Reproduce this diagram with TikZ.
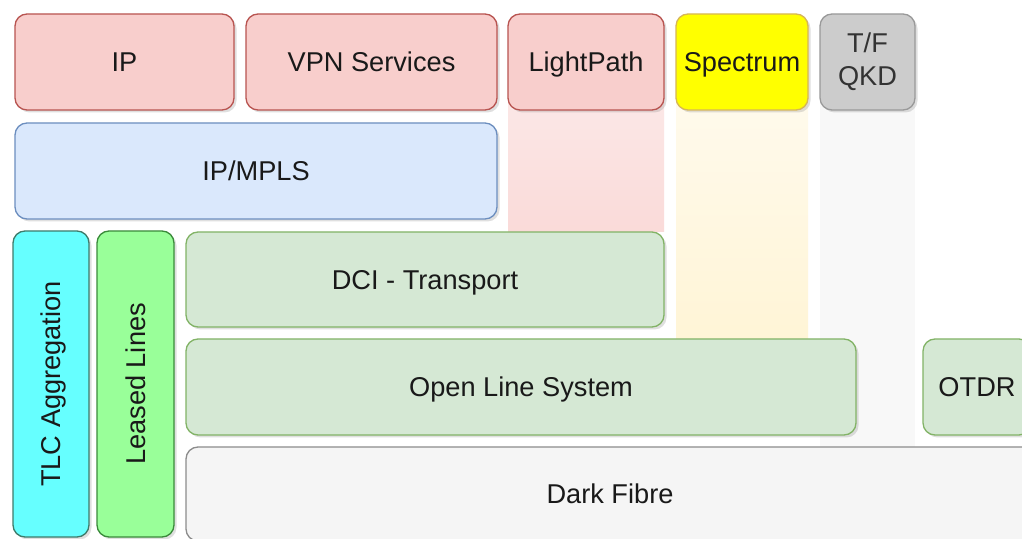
\documentclass[tikz,border=0pt]{standalone}
\usepackage{fontspec}
\setmainfont{Liberation Sans}
\usepackage{xcolor}
\usetikzlibrary{shadows}

\definecolor{redfill}{HTML}{F8CECC}
\definecolor{redline}{HTML}{B85450}
\definecolor{bluefill}{HTML}{DAE8FC}
\definecolor{blueline}{HTML}{6C8EBF}
\definecolor{greenfill}{HTML}{D5E8D4}
\definecolor{greenline}{HTML}{82B366}
\definecolor{yelfill}{HTML}{FFFF00}
\definecolor{yelline}{HTML}{D6B656}
\definecolor{creamfill}{HTML}{FFF2CC}
\definecolor{qkdfill}{HTML}{CCCCCC}
\definecolor{qkdline}{HTML}{999999}
\definecolor{cyanfill}{HTML}{66FFFF}
\definecolor{cyanline}{HTML}{3E7A6A}
\definecolor{limefill}{HTML}{99FF99}
\definecolor{limeline}{HTML}{3A8A3A}
\definecolor{fibrefill}{HTML}{F5F5F5}
\definecolor{fibreline}{HTML}{8C8C8C}

\begin{document}
\begin{tikzpicture}[x=1pt,y=1pt,
	layer/.style={rectangle, rounded corners=12pt, line width=1.3pt, inner sep=0pt, outer sep=0pt,
		font=\fontsize{27.2}{33}\selectfont, text=black!90, align=center,
		drop shadow={opacity=0.25, shadow xshift=2.5pt, shadow yshift=-2.5pt}},
	even/.style={layer, text height=19.5pt, text depth=0pt},
	service/.style={even, draw=redline, fill=redfill, minimum height=96pt},
	ctrl/.style={even, draw=blueline, fill=bluefill, minimum height=96pt},
	optical/.style={even, draw=greenline, fill=greenfill}]
	\clip (0,0) rectangle (1022,538);
	\fill[white] (0,0) rectangle (1022,538);
	% columns behind the top boxes
	\shade[top color=redfill!40, bottom color=redfill!75] (508,306) rectangle (664,478);
	\shade[top color=creamfill!30, bottom color=creamfill!80] (676,199) rectangle (808,478);
	\fill[fibrefill!70] (820,91) rectangle (915,478);
	% top row
	\node[service, minimum width=219pt] (ip) at (124.5,476) {IP};
	\node[service, minimum width=251pt] (vpn) at (371.5,476) {VPN Services};
	\node[service, minimum width=156pt] (lightpath) at (586,476) {LightPath};
	\node[even, draw=yelline, fill=yelfill, minimum width=132pt, minimum height=96pt] (spectrum) at (742,476) {Spectrum};
	\node[layer, draw=qkdline, fill=qkdfill, text=black!80, minimum width=95pt, minimum height=96pt] (qkd) at (867.5,476) {T/F\\QKD};
	% control layer
	\node[ctrl, minimum width=482pt] (mpls) at (256,367) {IP/MPLS};
	% vertical boxes
	\node[even, draw=cyanline, fill=cyanfill, rotate=90, minimum width=306pt, minimum height=76pt] (tlc) at (51,154) {TLC Aggregation};
	\node[even, draw=limeline, fill=limefill, rotate=90, minimum width=306pt, minimum height=77pt] (leased) at (135.5,154) {Leased Lines};
	% optical layers
	\node[optical, minimum width=478pt, minimum height=95pt] (dci) at (425,258.5) {DCI - Transport};
	\node[optical, minimum width=670pt, minimum height=96pt] (ols) at (521,151) {Open Line System};
	\node[optical, minimum width=108pt, minimum height=96pt] (otdr) at (977,151) {OTDR};
	\node[even, draw=fibreline, fill=fibrefill, minimum width=848pt, minimum height=94pt] (fibre) at (610,44) {Dark Fibre};
\end{tikzpicture}
\end{document}
